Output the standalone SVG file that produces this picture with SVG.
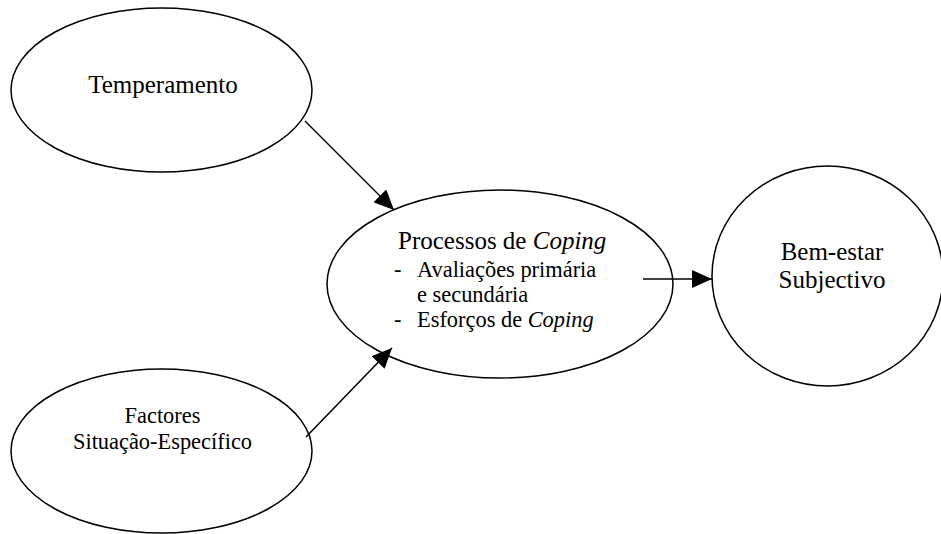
<svg xmlns="http://www.w3.org/2000/svg" width="941" height="534" viewBox="0 0 941 534">
<style>
.node { fill: #ffffff; stroke: #000000; stroke-width: 1.5; }
.edge { stroke: #000000; stroke-width: 1.5; fill: none; marker-end: url(#arrow); }
text { font-family: "Liberation Serif", "Times New Roman", serif; fill: #000000; }
.big { font-size: 25px; }
.small { font-size: 22.4px; }
</style>
<defs>
<marker id="arrow" markerUnits="userSpaceOnUse" markerWidth="20" markerHeight="18" refX="20" refY="9" orient="auto">
<path d="M0,0 L20,9 L0,18 Z" fill="#000000"/>
</marker>
</defs>
<rect width="941" height="534" fill="#ffffff"/>
<g id="temperamento">
<ellipse class="node" cx="161.5" cy="90" rx="150.5" ry="82"/>
<text class="big" x="163" y="93" text-anchor="middle">Temperamento</text>
</g>
<g id="factores">
<ellipse class="node" cx="161.5" cy="451" rx="150.5" ry="82"/>
<text class="small" x="162.5" y="423" text-anchor="middle">Factores</text>
<text class="small" x="162.5" y="449" text-anchor="middle">Situação-Específico</text>
</g>
<g id="processos">
<ellipse class="node" cx="500" cy="284" rx="173" ry="94"/>
<text class="big" x="398" y="249">Processos de <tspan font-style="italic">Coping</tspan></text>
<text class="small" x="394" y="277">-</text>
<text class="small" x="417" y="277">Avaliações primária</text>
<text class="small" x="417" y="302">e secundária</text>
<text class="small" x="394" y="327">-</text>
<text class="small" x="417" y="327">Esforços de <tspan font-style="italic">Coping</tspan></text>
</g>
<g id="bem-estar">
<ellipse class="node" cx="827.5" cy="276" rx="115.5" ry="110"/>
<text class="big" x="832" y="260" text-anchor="middle">Bem-estar</text>
<text class="big" x="832" y="288" text-anchor="middle">Subjectivo</text>
</g>
<g id="connectors">
<line class="edge" x1="305" y1="121" x2="394" y2="210"/>
<line class="edge" x1="306" y1="437" x2="392" y2="348"/>
<line class="edge" x1="643" y1="279" x2="712" y2="279"/>
</g>
</svg>
